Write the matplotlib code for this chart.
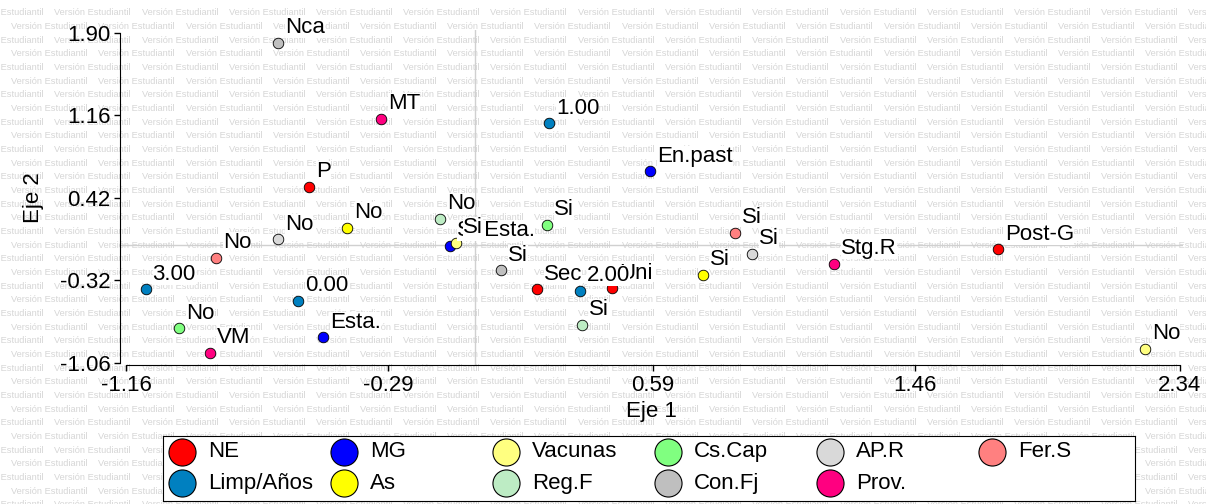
import matplotlib.pyplot as plt

plt.rcParams['font.family'] = ['Liberation Sans', 'DejaVu Sans']

# Modalidades (etiqueta, variable) y coordenadas en los ejes 1 y 2
etiquetas = ['Nca', 'MT', 'P', 'No', 'No', 'No', 'No', '3.00', '0.00', 'No',
             'Esta.', 'VM', 'S. Esta.', 'Si', '1.00', 'En.past', 'Si', 'Si',
             'Sec', 'Uni', '2.00', 'Si', 'Si', 'Si', 'Si', 'Stg.R', 'Post-G', 'No']
variable = ['Con.Fj', 'Prov.', 'NE', 'Reg.F', 'As', 'AP.R', 'Fer.S', 'Limp/Años',
            'Limp/Años', 'Cs.Cap', 'MG', 'Prov.', 'MG', 'Vacunas', 'Limp/Años', 'MG',
            'Cs.Cap', 'Con.Fj', 'NE', 'NE', 'Limp/Años', 'Reg.F', 'Fer.S', 'AP.R',
            'As', 'Prov.', 'NE', 'Vacunas']
eje1 = [-0.655, -0.313, -0.552, -0.117, -0.426, -0.655, -0.861, -1.094, -0.589, -0.984,
        -0.506, -0.881, -0.084, -0.064, 0.245, 0.581, 0.239, 0.086,
        0.205, 0.455, 0.348, 0.355, 0.863, 0.920, 0.757, 1.192, 1.737, 2.225]
eje2 = [1.81, 1.13, 0.52, 0.23, 0.15, 0.05, -0.12, -0.40, -0.50, -0.75,
        -0.83, -0.97, -0.01, 0.02, 1.09, 0.66, 0.18, -0.23,
        -0.40, -0.39, -0.41, -0.72, 0.11, -0.08, -0.27, -0.17, -0.04, -0.93]

xticks = [-1.16, -0.29, 0.59, 1.46, 2.34]
yticks = [-1.06, -0.32, 0.42, 1.16, 1.90]

# orden de la leyenda (por filas)
grupos = ['NE', 'MG', 'Vacunas', 'Cs.Cap', 'AP.R', 'Fer.S',
          'Limp/Años', 'As', 'Reg.F', 'Con.Fj', 'Prov.']
colores = {'NE': '#ff0000', 'MG': '#0000ff', 'Vacunas': '#ffff80', 'Cs.Cap': '#80ff80',
           'AP.R': '#d9d9d9', 'Fer.S': '#ff8080', 'Limp/Años': '#0080c0', 'As': '#ffff00',
           'Reg.F': '#bdecc4', 'Con.Fj': '#bfbfbf', 'Prov.': '#ff0080'}

W, H = 1206, 504
fig = plt.figure(figsize=(W / 100, H / 100), dpi=100)
fig.patch.set_facecolor('white')

# marca de agua
fila = 0
y = 12.7
while y < H + 10:
    x0 = -33 if fila % 2 == 0 else 11 - 87.25
    x = x0
    while x < W:
        fig.text(x / W, 1 - y / H, 'Versión Estudiantil', fontsize=6.7, color='#d6d6d6',
                 ha='left', va='center', zorder=-1)
        x += 87.25
    y += 13.67
    fila += 1

ax = fig.add_axes([120 / W, 139 / H, 1063 / W, (365 - 29.65) / H])
ax.set_facecolor('none')
ax.set_xlim(-1.18, 2.35)
ax.set_ylim(-1.078, 1.93)
ax.axhline(0, color='#d0d0d0', lw=1, zorder=1)
ax.axvline(0, color='#d0d0d0', lw=1, zorder=1)

for lab, var, x, y in zip(etiquetas, variable, eje1, eje2):
    ax.scatter(x, y, s=58, color=colores[var], edgecolors='black', linewidths=0.6, zorder=3)
    ax.annotate(lab, (x, y), xytext=(4.8, 7), textcoords='offset points', fontsize=16,
                va='baseline', ha='left', zorder=4,
                bbox=dict(boxstyle='square,pad=0', fc='white', ec='none'))

ax.spines['top'].set_visible(False)
ax.spines['right'].set_visible(False)
ax.spines['left'].set_bounds(-1.06, 1.90)
ax.spines['bottom'].set_bounds(-1.16, 2.34)
ax.set_xticks(xticks)
ax.set_xticklabels(['%.2f' % v for v in xticks])
ax.set_yticks(yticks)
ax.set_yticklabels(['%.2f' % v for v in yticks])
ax.tick_params(labelsize=16, length=4, width=1, pad=3)
ax.set_xlabel('Eje 1', fontsize=16, labelpad=4)
ax.set_ylabel('Eje 2', fontsize=16, labelpad=11)

# leyenda
lax = fig.add_axes([163 / W, 1 - 501 / H, 972 / W, 65 / H])
lax.set_facecolor('white')
lax.set_xlim(0, 6)
lax.set_ylim(2, 0)
lax.set_xticks([])
lax.set_yticks([])
for k, g in enumerate(grupos):
    f, c = divmod(k, 6)
    yy = 0.49 + f * 0.96
    lax.scatter(c + 0.118, yy, s=380, color=colores[g],
                edgecolors='black', linewidths=0.8, clip_on=False)
    lax.text(c + 0.28, yy, g, fontsize=16, va='center', ha='left')

fig.savefig('out.png', dpi=100)
